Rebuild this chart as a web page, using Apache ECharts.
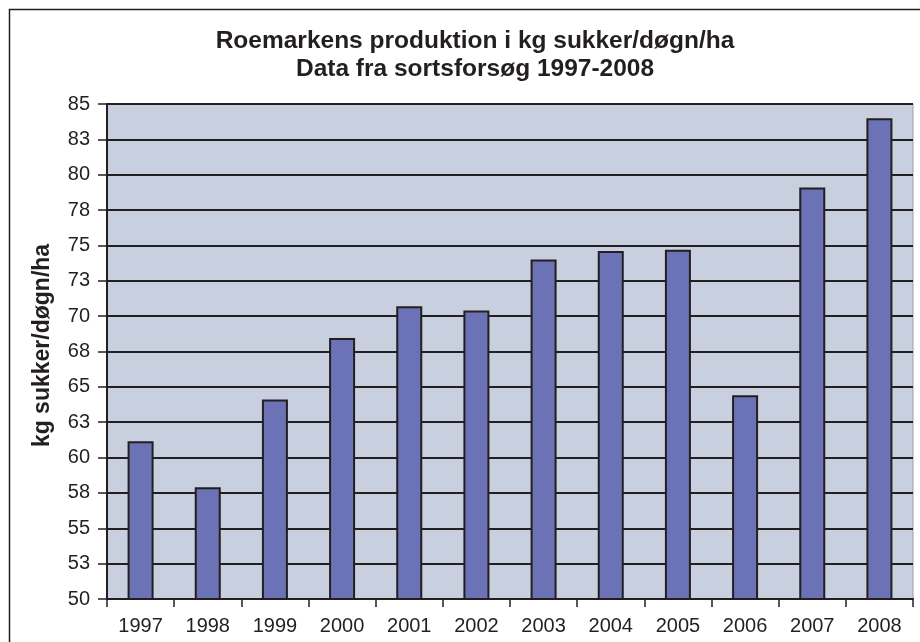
<!DOCTYPE html>
<html>
<head>
<meta charset="utf-8">
<script src="https://cdn.jsdelivr.net/npm/echarts@6/dist/echarts.min.js"></script>
<style>
  html, body { margin: 0; padding: 0; background: #fff; }
  #main { width: 920px; height: 642px; }
</style>
</head>
<body>
<div id="main"></div>
<script>
// data
var years = ['1997','1998','1999','2000','2001','2002','2003','2004','2005','2006','2007','2008'];
var sukker = [61.15, 57.9, 64.1, 68.45, 70.7, 70.4, 74.0, 74.6, 74.7, 64.4, 79.1, 84.0];
var yMin = 50, yMax = 85, yStep = 2.5;

var myChart = echarts.init(document.getElementById('main'));
var font = 'Liberation Sans, Arial, sans-serif';

var option = {
  backgroundColor: '#fff',
  animation: false,
  title: {
    text: 'Roemarkens produktion i kg sukker/døgn/ha\nData fra sortsforsøg 1997-2008',
    left: 470,
    top: 22,
    textAlign: 'center',
    textStyle: { fontFamily: font, fontSize: 24.5, fontWeight: 'bold', color: '#231f20', lineHeight: 28 }
  },
  // outer frame of the chart area
  graphic: [{
    type: 'rect',
    shape: { x: 9.5, y: 9.5, width: 1000, height: 1000 },
    style: { fill: null, stroke: '#231f20', lineWidth: 1.5 },
    silent: true
  }],
  grid: {
    left: 107, right: 7, top: 104, bottom: 43,
    show: true,
    backgroundColor: '#c8cfdf',
    borderColor: '#9a9eae',
    borderWidth: 1
  },
  xAxis: {
    type: 'category',
    data: years,
    boundaryGap: true,
    axisLine: { lineStyle: { color: '#231f20', width: 2 } },
    axisTick: { show: true, length: 8, lineStyle: { color: '#231f20', width: 1.5 } },
    axisLabel: { fontFamily: font, fontSize: 20, color: '#231f20', margin: 17 },
    splitLine: { show: false }
  },
  yAxis: {
    type: 'value',
    min: yMin, max: yMax, interval: yStep,
    name: 'kg sukker/døgn/ha',
    nameLocation: 'middle',
    nameGap: 53,
    nameTextStyle: { fontFamily: font, fontSize: 23, fontWeight: 'bold', color: '#231f20', padding: [0, 0, 0, 12] },
    axisLine: { show: true, lineStyle: { color: '#231f20', width: 2 } },
    axisTick: { show: true, length: 9, lineStyle: { color: '#231f20', width: 1.5 } },
    axisLabel: {
      fontFamily: font, fontSize: 20, color: '#231f20', margin: 17,
      formatter: function (v) { return Math.round(v); }
    },
    splitLine: { show: true, lineStyle: { color: '#231f20', width: 2 } }
  },
  series: [{
    type: 'bar',
    data: sukker,
    barWidth: 26,
    itemStyle: { color: '#6b72b5', borderColor: '#231f20', borderWidth: 2 }
  }]
};

myChart.setOption(option);
window.onresize = myChart.resize;
</script>
</body>
</html>
